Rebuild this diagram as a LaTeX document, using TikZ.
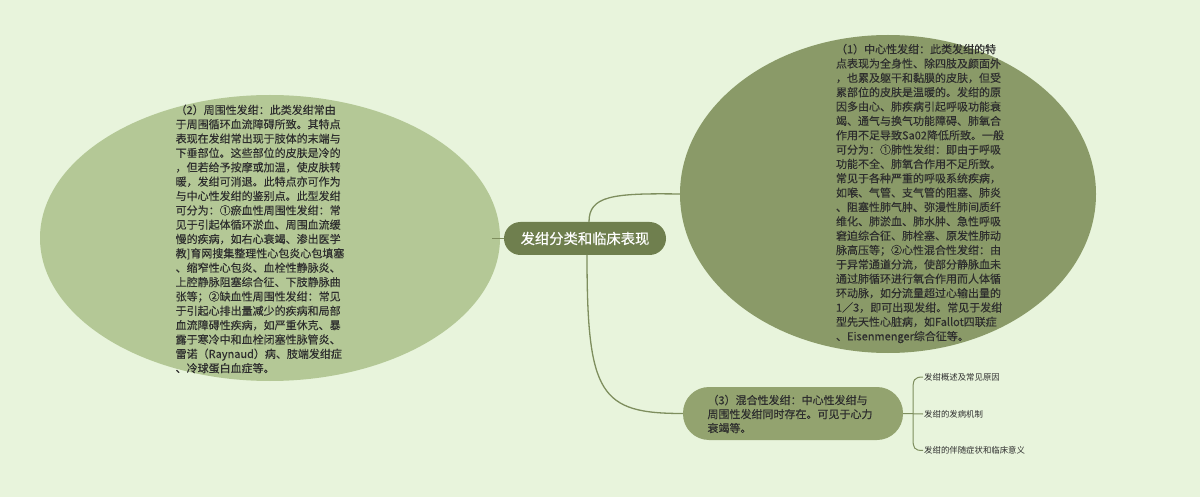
\documentclass[tikz,border=0pt]{standalone}
\usepackage{fontspec}
\newfontfamily\cjk{Noto Sans CJK SC}[FakeBold=0.25]
\newfontfamily\cjkleaf{Noto Sans CJK SC}
\usetikzlibrary{shapes.geometric}
\definecolor{bgc}{HTML}{E8F4DC}
\definecolor{lefte}{HTML}{B4C896}
\definecolor{righte}{HTML}{8A9A68}
\definecolor{bottomn}{HTML}{93A36F}
\definecolor{centern}{HTML}{6F7F4E}
\definecolor{linec}{HTML}{7E8E5E}
\definecolor{txtc}{HTML}{2E2E2E}
\tikzset{
  bigtext/.style={align=left, inner sep=0pt, text=txtc, font=\cjk\fontsize{11}{14.35}\selectfont},
  blob/.style={ellipse, draw=none, inner sep=0pt},
  conn/.style={draw=linec, line width=1.3pt},
  leaf/.style={anchor=west, inner sep=1pt, text=txtc, font=\cjkleaf\fontsize{8.4}{10}\selectfont},
}
\begin{document}
\begin{tikzpicture}[x=1pt,y=-1pt]
\fill[bgc] (0,0) rectangle (1200,497);
\useasboundingbox (0,0) rectangle (1200,497);

\node[blob, fill=lefte, minimum width=460pt, minimum height=286pt] (L) at (270,238) {};
\node[blob, fill=righte, minimum width=416pt, minimum height=318pt] (R) at (888,194) {};
\node[rounded corners=16.5pt, fill=centern, minimum width=162pt, minimum height=33pt, inner sep=0pt,
      text=white, font=\cjk\fontsize{14.3}{16}\selectfont] (C) at (585,238.5) {发绀分类和临床表现};
\node[rounded corners=26pt, fill=bottomn, minimum width=220pt, minimum height=53pt, inner sep=0pt] (B) at (793,413.5) {};

\coordinate (Cu) at (589,222);
\coordinate (Cd) at (587,255);
\draw[conn] (C.west) -- ([xshift=-12pt]C.west);
\draw[conn] (Cu) .. controls (589,196) and (612,193) .. (R.west);
\draw[conn] (Cd) .. controls (587,395) and (600,413.5) .. (B.west);

\node[bigtext] (Lt) at (260,239) {（2）周围性发绀：此类发绀常由\\
于周围循环血流障碍所致。其特点\\
表现在发绀常出现于肢体的末端与\\
下垂部位。这些部位的皮肤是冷的\\
，但若给予按摩或加温，使皮肤转\\
暖，发绀可消退。此特点亦可作为\\
与中心性发绀的鉴别点。此型发绀\\
可分为：①瘀血性周围性发绀：常\\
见于引起体循环淤血、周围血流缓\\
慢的疾病，如右心衰竭、渗出医学\\
教]育网搜集整理性心包炎心包填塞\\
、缩窄性心包炎、血栓性静脉炎、\\
上腔静脉阻塞综合征、下肢静脉曲\\
张等；②缺血性周围性发绀：常见\\
于引起心排出量减少的疾病和局部\\
血流障碍性疾病，如严重休克、暴\\
露于寒冷中和血栓闭塞性脉管炎、\\
雷诺（Raynaud）病、肢端发绀症\\
、冷球蛋白血症等。};

\node[bigtext] (Rt) at (920,193.5) {（1）中心性发绀：此类发绀的特\\
点表现为全身性、除四肢及颜面外\\
，也累及躯干和黏膜的皮肤，但受\\
累部位的皮肤是温暖的。发绀的原\\
因多由心、肺疾病引起呼吸功能衰\\
竭、通气与换气功能障碍、肺氧合\\
作用不足导致Sa02降低所致。一般\\
可分为：①肺性发绀：即由于呼吸\\
功能不全、肺氧合作用不足所致。\\
常见于各种严重的呼吸系统疾病，\\
如喉、气管、支气管的阻塞、肺炎\\
、阻塞性肺气肿、弥漫性肺间质纤\\
维化、肺淤血、肺水肿、急性呼吸\\
窘迫综合征、肺栓塞、原发性肺动\\
脉高压等；②心性混合性发绀：由\\
于异常通道分流，使部分静脉血未\\
通过肺循环进行氧合作用而人体循\\
环动脉，如分流量超过心输出量的\\
1／3，即可出现发绀。常见于发绀\\
型先天性心脏病，如Fallot四联症\\
、Eisenmenger综合征等。};

\node[bigtext, font=\cjk\fontsize{11}{14}\selectfont] (Bt) at (790,414) {（3）混合性发绀：中心性发绀与\\
周围性发绀同时存在。可见于心力\\
衰竭等。};

\node[leaf] (l1) at (923,377) {发绀概述及常见原因};
\node[leaf] (l2) at (923,414) {发绀的发病机制};
\node[leaf] (l3) at (923,450.5) {发绀的伴随症状和临床意义};
\draw[draw=linec, line width=1pt] (B.east) -- (l2.west);
\draw[draw=linec, line width=1pt] (l1.west) .. controls (914,377) and (913,380) .. (913,390) -- (913,438) .. controls (913,448) and (914,450.5) .. (l3.west);
\end{tikzpicture}
\end{document}
